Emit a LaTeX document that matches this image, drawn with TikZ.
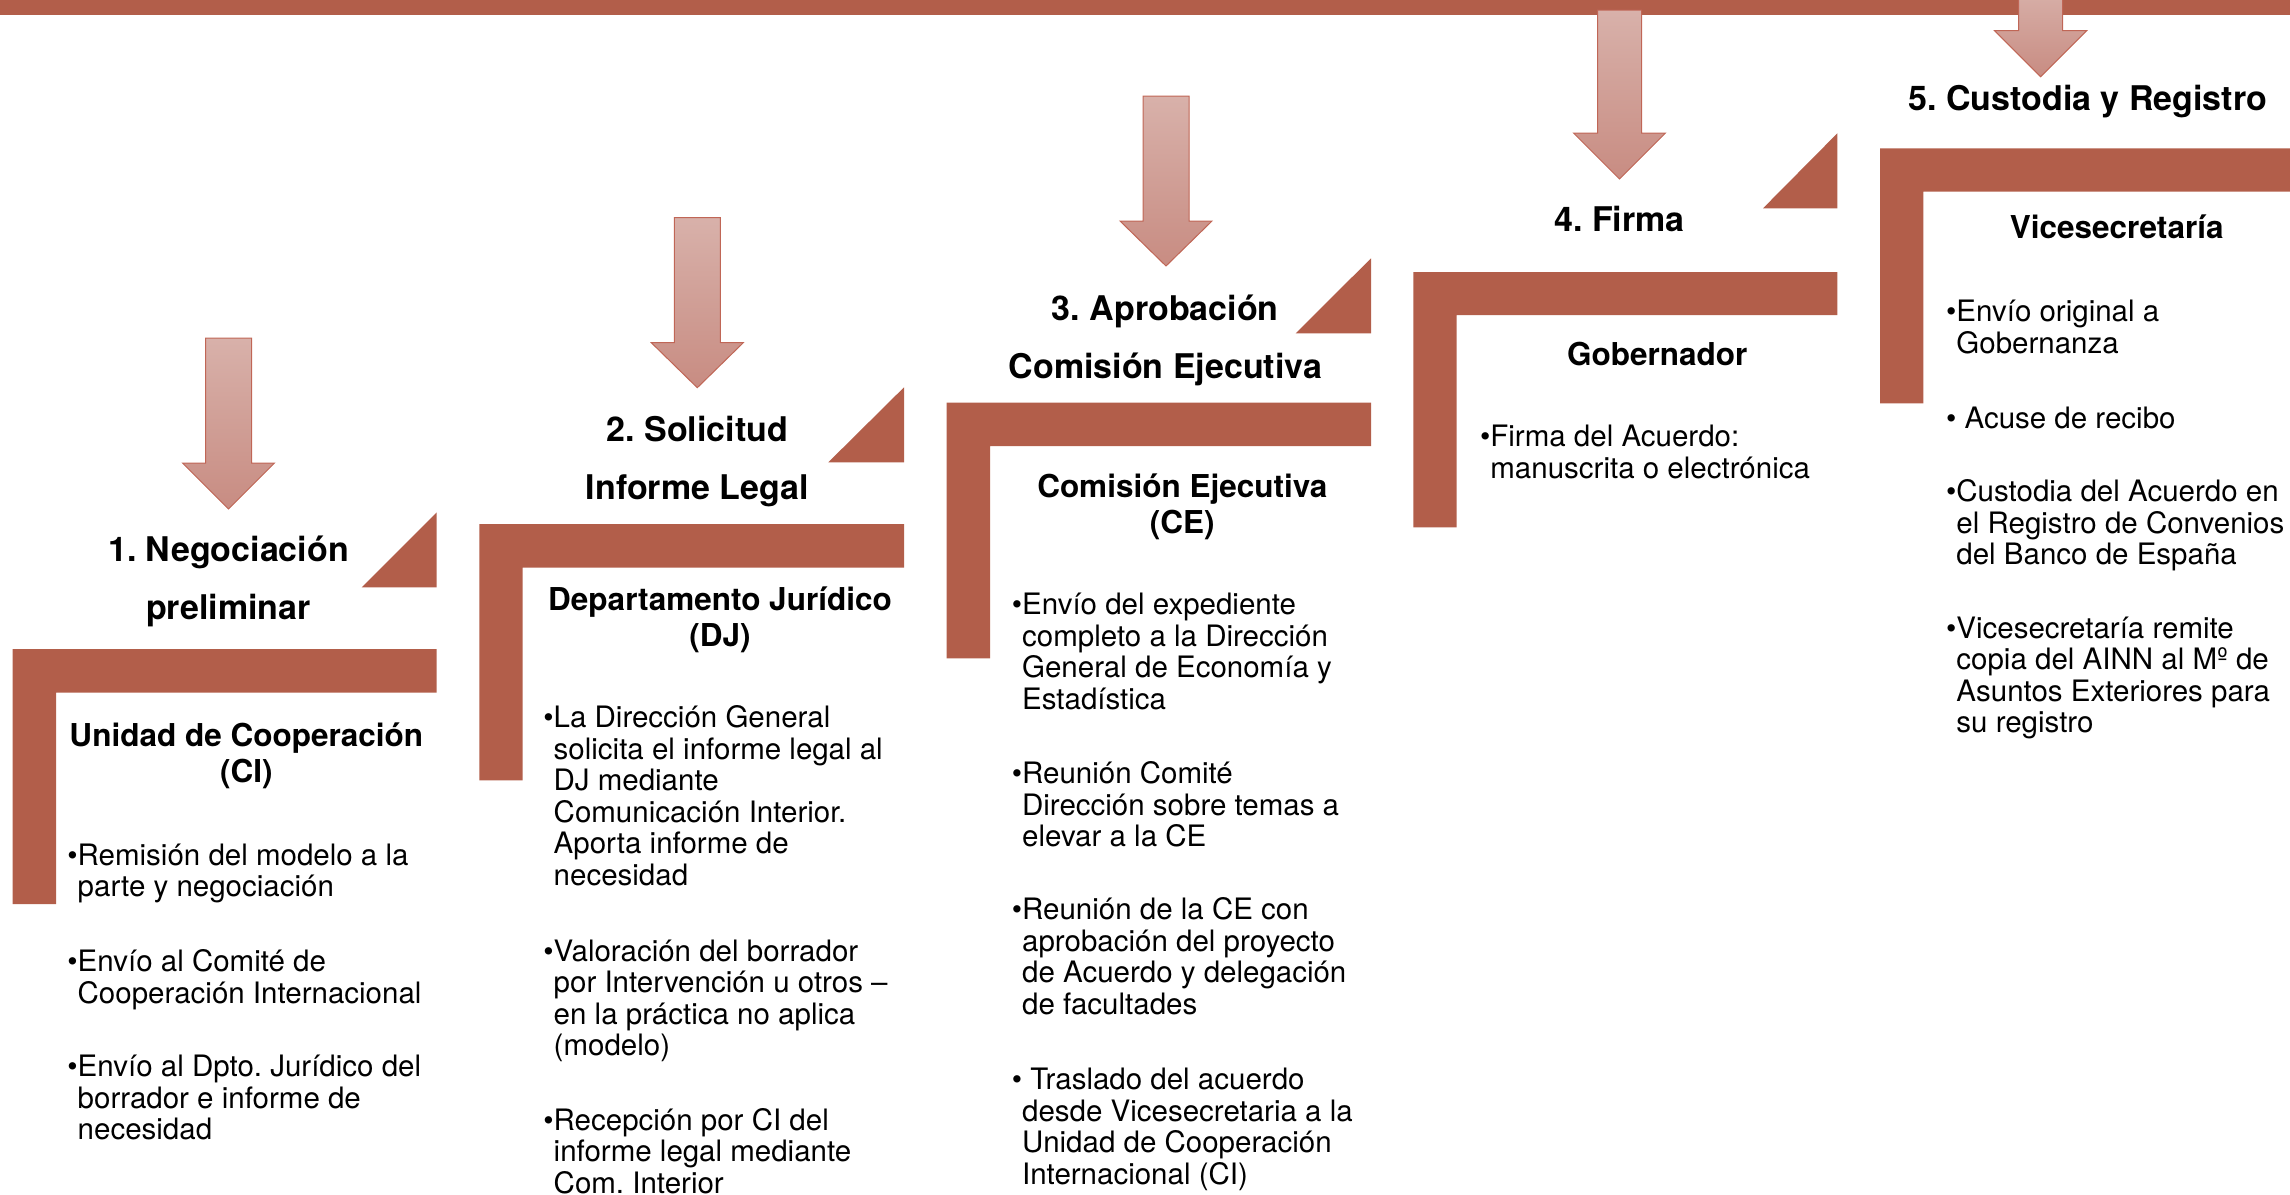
\documentclass[tikz,border=0pt]{standalone}
\usepackage{fontspec}
\setmainfont{TeX Gyre Heros}
\frenchspacing
\definecolor{stepred}{RGB}{178,94,74}
\definecolor{arrowtop}{RGB}{216,177,170}
\definecolor{arrowbottom}{RGB}{200,140,130}
\definecolor{arrowline}{RGB}{192,102,86}
\newcommand{\leftlines}[1]{\begin{tabular}[t]{@{}l@{}}#1\end{tabular}}
\newcommand{\midlines}[1]{\begin{tabular}[t]{@{}c@{}}#1\end{tabular}}

\begin{document}
\begin{tikzpicture}[x=0.5pt,y=-0.5pt,
    stair/.style={fill=stepred,draw=none},
    blockarrow/.style={top color=arrowtop,bottom color=arrowbottom,draw=arrowline,line width=0.5pt},
    steptitle/.style={font=\fontsize{17}{28.75}\selectfont\bfseries,inner sep=0pt,anchor=base},
    unit/.style={font=\fontsize{15.75}{18}\selectfont\bfseries,inner sep=0pt,anchor=base},
    item/.style={font=\fontsize{14.75}{15.75}\selectfont,inner sep=0pt,anchor=base west}]
  \useasboundingbox (0,0) rectangle (2290,1194);
  % top band
  \fill[stair] (0,0) rectangle (2290,15);
  % stairs
  \fill[stair] (12.7,649) -| (436.7,692.7) -| (56,904) -| cycle;
  \fill[stair] (479.3,524) -| (904,567.7) -| (522.7,780.4) -| cycle;
  \fill[stair] (946.7,402.7) -| (1371,446) -| (990,658.3) -| cycle;
  \fill[stair] (1413.3,272) -| (1837.3,315) -| (1456.7,527.3) -| cycle;
  \fill[stair] (1880,148.3) -| (2290,191.5) -| (1923.3,403.3) -| cycle;
  % corner triangles
  \fill[stair] (361.7,587.3) -- (436.7,587.3) -- (436.7,512.3) -- cycle;
  \fill[stair] (828.3,462.3) -- (904,462.3) -- (904,387.3) -- cycle;
  \fill[stair] (1295.7,333.3) -- (1371,333.3) -- (1371,258.3) -- cycle;
  \fill[stair] (1763,208.3) -- (1837.3,208.3) -- (1837.3,133.3) -- cycle;
  % arrows
  \draw[blockarrow,shift={(228.5,509)}] (-23,-171) -- (23,-171) -- (23,-46) -- (46,-46) -- (0,0) -- (-46,-46) -- (-23,-46) -- cycle;
  \draw[blockarrow,shift={(697.3,387.7)}] (-23,-170) -- (23,-170) -- (23,-45) -- (46,-45) -- (0,0) -- (-46,-45) -- (-23,-45) -- cycle;
  \draw[blockarrow,shift={(1166,266)}] (-23,-170) -- (23,-170) -- (23,-45) -- (46,-45) -- (0,0) -- (-46,-45) -- (-23,-45) -- cycle;
  \draw[blockarrow,shift={(1619.5,179)}] (-22,-169) -- (22,-169) -- (22,-46) -- (46,-46) -- (0,0) -- (-46,-46) -- (-22,-46) -- cycle;
  \draw[blockarrow,shift={(2040.6,76.7)}] (-22,-90) -- (22,-90) -- (22,-46) -- (46,-46) -- (0,0) -- (-46,-46) -- (-22,-46) -- cycle;

  % step 1
  \node[steptitle] (neg) at (228.5,561.7) {\midlines{1. Negociación\\preliminar}};
  \node[unit] (ci) at (246.3,746.7) {\midlines{Unidad de Cooperación\\(CI)}};
  \node[item] (ci1) at (77.3,865) {\leftlines{\llap{•}Remisión del modelo a la\\parte y negociación}};
  \node[item] (ci2) at (77.3,971.7) {\leftlines{\llap{•}Envío al Comité de\\Cooperación Internacional}};
  \node[item] (ci3) at (77.3,1076.7) {\leftlines{\llap{•}Envío al Dpto. Jurídico del\\borrador e informe de\\necesidad}};

  % step 2
  \node[steptitle] (sol) at (697.3,441.7) {\midlines{2. Solicitud\\Informe Legal}};
  \node[unit] (dj) at (720,610.5) {\midlines{Departamento Jurídico\\(DJ)}};
  \node[item] (dj1) at (553.3,727.8) {\leftlines{\llap{•}La Dirección General\\solicita el informe legal al\\DJ mediante\\Comunicación Interior.\\Aporta informe de\\necesidad}};
  \node[item] (dj2) at (553.3,961.1) {\leftlines{\llap{•}Valoración del borrador\\por Intervención u otros –\\en la práctica no aplica\\(modelo)}};
  \node[item] (dj3) at (553.3,1130.2) {\leftlines{\llap{•}Recepción por CI del\\informe legal mediante\\Com. Interior}};

  % step 3
  \node[steptitle] (apr) at (1165.3,320.7) {\midlines{3. Aprobación\\Comisión Ejecutiva}};
  \node[unit] (ce) at (1182.3,497.7) {\midlines{Comisión Ejecutiva\\(CE)}};
  \node[item] (ce1) at (1021.7,614.6) {\leftlines{\llap{•}Envío del expediente\\completo a la Dirección\\General de Economía y\\Estadística}};
  \node[item] (ce2) at (1021.7,783.6) {\leftlines{\llap{•}Reunión Comité\\Dirección sobre temas a\\elevar a la CE}};
  \node[item] (ce3) at (1021.7,919.9) {\leftlines{\llap{•}Reunión de la CE con\\aprobación del proyecto\\de Acuerdo y delegación\\de facultades}};
  \node[item] (ce4) at (1021.7,1089.7) {\leftlines{\llap{•}~Traslado del acuerdo\\desde Vicesecretaria a la\\Unidad de Cooperación\\Internacional (CI)}};

  % step 4
  \node[steptitle] (fir) at (1619.5,231.7) {4. Firma};
  \node[unit] (gob) at (1657.3,365) {Gobernador};
  \node[item] (gob1) at (1490,446.7) {\leftlines{\llap{•}Firma del Acuerdo:\\manuscrita o electrónica}};

  % step 5
  \node[steptitle] (cus) at (2087.7,110) {5. Custodia y Registro};
  \node[unit] (vs) at (2116.7,238.3) {Vicesecretaría};
  \node[item] (vs1) at (1956,321.7) {\leftlines{\llap{•}Envío original a\\Gobernanza}};
  \node[item] (vs2) at (1956,428.3) {\leftlines{\llap{•}~Acuse de recibo}};
  \node[item] (vs3) at (1956,501.7) {\leftlines{\llap{•}Custodia del Acuerdo en\\el Registro de Convenios\\del Banco de España}};
  \node[item] (vs4) at (1956,638.3) {\leftlines{\llap{•}Vicesecretaría remite\\copia del AINN al Mº de\\Asuntos Exteriores para\\su registro}};
\end{tikzpicture}
\end{document}
